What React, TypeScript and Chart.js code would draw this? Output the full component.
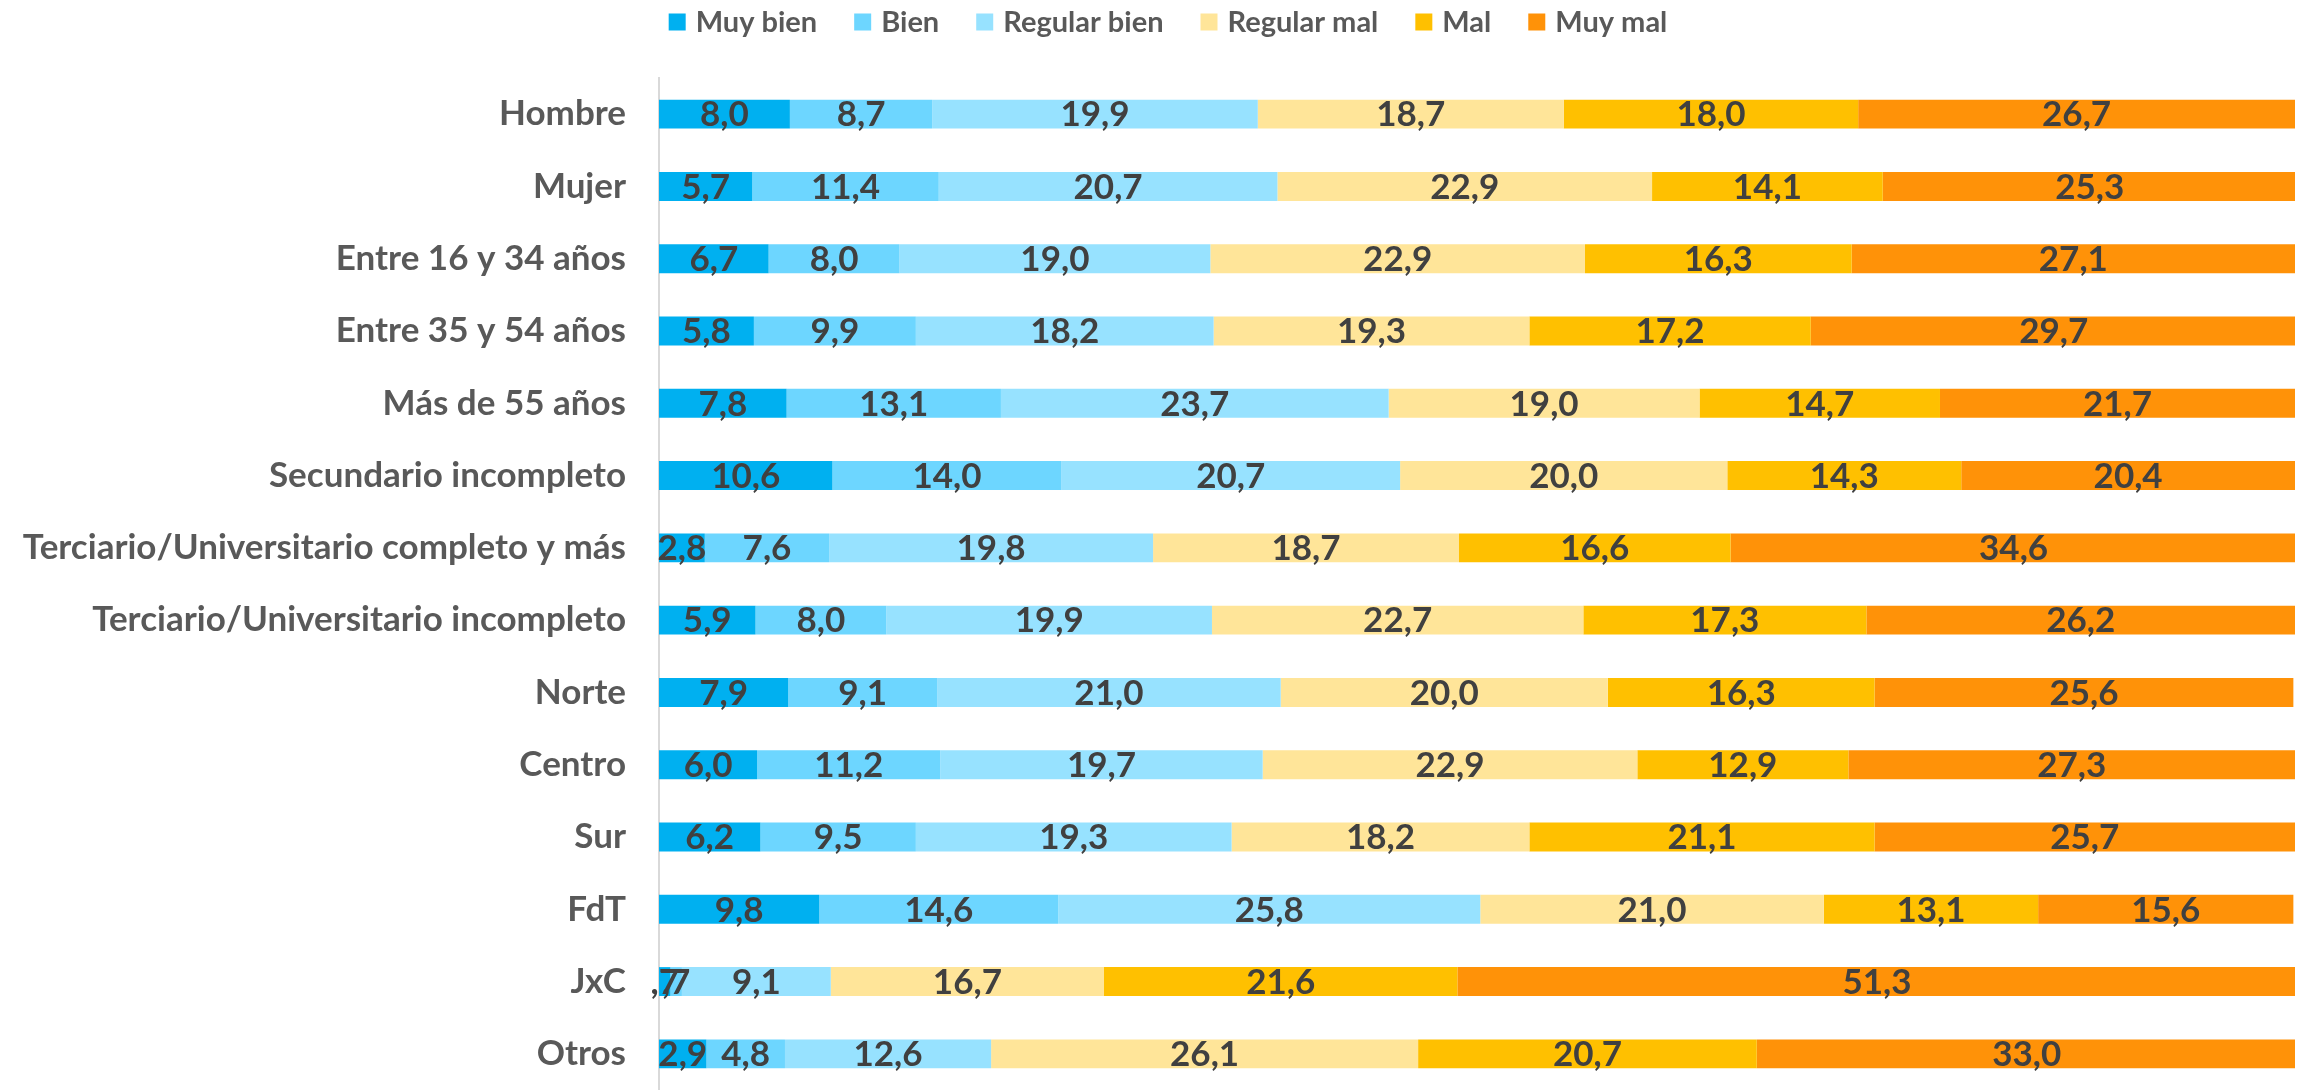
import React, { useEffect, useRef } from "react";
import { Chart, registerables } from "chart.js";

Chart.register(...registerables);

const categories = [
  "Hombre",
  "Mujer",
  "Entre 16 y 34 años",
  "Entre 35 y 54 años",
  "Más de 55 años",
  "Secundario incompleto",
  "Terciario/Universitario completo y más",
  "Terciario/Universitario incompleto",
  "Norte",
  "Centro",
  "Sur",
  "FdT",
  "JxC",
  "Otros",
];

const seriesNames = ["Muy bien", "Bien", "Regular bien", "Regular mal", "Mal", "Muy mal"];
const seriesColors = ["#00B0F0", "#6DD6FF", "#97E2FF", "#FFE599", "#FFC000", "#FF9208"];

const muyBien = [8.0, 5.7, 6.7, 5.8, 7.8, 10.6, 2.8, 5.9, 7.9, 6.0, 6.2, 9.8, 0.7, 2.9];
const bien = [8.7, 11.4, 8.0, 9.9, 13.1, 14.0, 7.6, 8.0, 9.1, 11.2, 9.5, 14.6, 0.7, 4.8];
const regularBien = [19.9, 20.7, 19.0, 18.2, 23.7, 20.7, 19.8, 19.9, 21.0, 19.7, 19.3, 25.8, 9.1, 12.6];
const regularMal = [18.7, 22.9, 22.9, 19.3, 19.0, 20.0, 18.7, 22.7, 20.0, 22.9, 18.2, 21.0, 16.7, 26.1];
const mal = [18.0, 14.1, 16.3, 17.2, 14.7, 14.3, 16.6, 17.3, 16.3, 12.9, 21.1, 13.1, 21.6, 20.7];
const muyMal = [26.7, 25.3, 27.1, 29.7, 21.7, 20.4, 34.6, 26.2, 25.6, 27.3, 25.7, 15.6, 51.3, 33.0];

const seriesValues = [muyBien, bien, regularBien, regularMal, mal, muyMal];

const FONT = "Lato, 'Open Sans', 'DejaVu Sans', sans-serif";

function fmt(v: number): string {
  let s = v.toFixed(1).replace(".", ",");
  if (s.startsWith("0,")) s = s.slice(1);
  return s;
}

const dataLabelPlugin = {
  id: "dataLabels",
  afterDatasetsDraw(chart: any) {
    const ctx = chart.ctx;
    ctx.save();
    ctx.font = `bold 35px ${FONT}`;
    ctx.fillStyle = "#404040";
    ctx.textAlign = "center";
    ctx.textBaseline = "middle";
    chart.data.datasets.forEach((ds: any, di: number) => {
      const meta = chart.getDatasetMeta(di);
      meta.data.forEach((el: any, i: number) => {
        const v = ds.data[i];
        const p = el.getCenterPoint();
        ctx.fillText(fmt(v), p.x, p.y + 1);
      });
    });
    ctx.restore();
  },
};

const legendPlugin = {
  id: "customLegend",
  afterDraw(chart: any) {
    const ctx = chart.ctx;
    ctx.save();
    ctx.font = `bold 29px ${FONT}`;
    const box = 17;
    const gapText = 10;
    const gapItem = 37;
    const items = chart.data.datasets.map((ds: any) => ({
      text: ds.label,
      color: ds.backgroundColor,
      w: box + gapText + ctx.measureText(ds.label).width,
    }));
    const total = items.reduce((a: number, it: any) => a + it.w, 0) + gapItem * (items.length - 1);
    let x = 1168 - total / 2;
    const cy = 22;
    ctx.textBaseline = "middle";
    ctx.textAlign = "left";
    items.forEach((it: any) => {
      ctx.fillStyle = it.color;
      ctx.fillRect(x, cy - box / 2, box, box);
      ctx.fillStyle = "#595959";
      ctx.fillText(it.text, x + box + gapText, cy + 1);
      x += it.w + gapItem;
    });
    ctx.restore();
  },
};

export default function App() {
  const ref = useRef<HTMLCanvasElement | null>(null);
  useEffect(() => {
    document.body.style.margin = "0";
    if (!ref.current) return;
    const chart = new Chart(ref.current, {
      type: "bar",
      data: {
        labels: categories,
        datasets: seriesNames.map((name, i) => ({
          label: name,
          data: seriesValues[i],
          backgroundColor: seriesColors[i],
          borderWidth: 0,
          categoryPercentage: 1,
          barPercentage: 0.4,
        })),
      },
      options: {
        indexAxis: "y",
        responsive: false,
        animation: false,
        maintainAspectRatio: false,
        layout: { padding: { top: 78, right: 15, bottom: 0, left: 0 } },
        plugins: {
          legend: { display: false },
          tooltip: { enabled: false },
        },
        scales: {
          x: {
            stacked: true,
            min: 0,
            max: 100,
            display: false,
          },
          y: {
            stacked: true,
            grid: { display: false, drawTicks: false },
            border: { display: true, color: "#D9D9D9", width: 2 },
            ticks: {
              padding: 33,
              color: "#595959",
              font: { family: FONT, size: 35, weight: "bold" },
            },
            afterFit: (s: any) => {
              s.width = 659;
              s.paddingTop = 0;
              s.paddingBottom = 0;
            },
          },
        },
      },
      plugins: [dataLabelPlugin, legendPlugin],
    } as any);
    return () => chart.destroy();
  }, []);
  return (
    <div style={{ position: "absolute", left: 0, top: 0, width: 2310, height: 1090 }}>
      <canvas ref={ref} width={2310} height={1090} style={{ width: 2310, height: 1090 }} />
    </div>
  );
}
